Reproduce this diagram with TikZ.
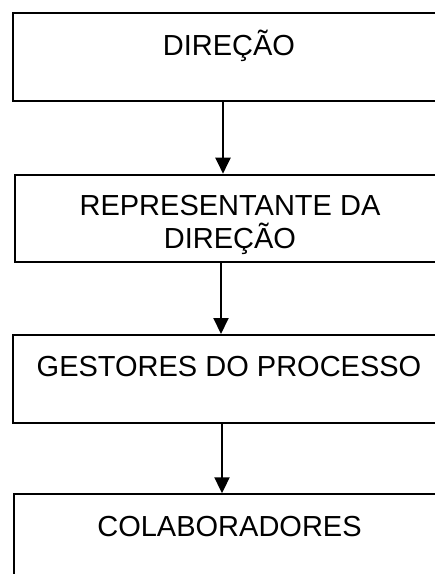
\documentclass[tikz,border=0pt]{standalone}
\usepackage{fontspec}
\setmainfont{Liberation Sans}
\usetikzlibrary{arrows.meta}

\begin{document}
\begin{tikzpicture}[x=1pt,y=-1pt,>={Triangle[length=16pt,width=15pt]},
        caixa/.style={draw,line width=2pt,minimum width=434pt,minimum height=87.5pt,anchor=north west,inner sep=0pt},
        rotulo/.style={font=\fontsize{29}{33.3}\selectfont,align=center,anchor=base,inner sep=0pt}]
        \useasboundingbox (0,0) rectangle (435,574);
        \clip (0,0) rectangle (435,574);
        % caixas
        \node[caixa] (direcao) at (11.7,12.3) {};
        \node[caixa] (repres) at (14.3,173.7) {};
        \node[caixa] (gestores) at (12.3,334) {};
        \node[caixa] (colab) at (12.7,493.3) {};
        % textos
        \node[rotulo] (tdirecao) at (229,55.5) {DIREÇÃO};
        \node[rotulo] (trepres) at (230,248.3) {REPRESENTANTE DA\\DIREÇÃO};
        \node[rotulo] (tgestores) at (229,376.7) {GESTORES DO PROCESSO};
        \node[rotulo] (tcolab) at (229.5,536.3) {COLABORADORES};
        % setas
        \draw[->,line width=2pt] ([xshift=-6.7pt]direcao.south) -- ([xshift=-9.3pt]repres.north);
        \draw[->,line width=2pt] ([xshift=-11.3pt]repres.south) -- ([xshift=-9.3pt]gestores.north);
        \draw[->,line width=2pt] ([xshift=-8.3pt]gestores.south) -- ([xshift=-8.7pt]colab.north);
\end{tikzpicture}
\end{document}
